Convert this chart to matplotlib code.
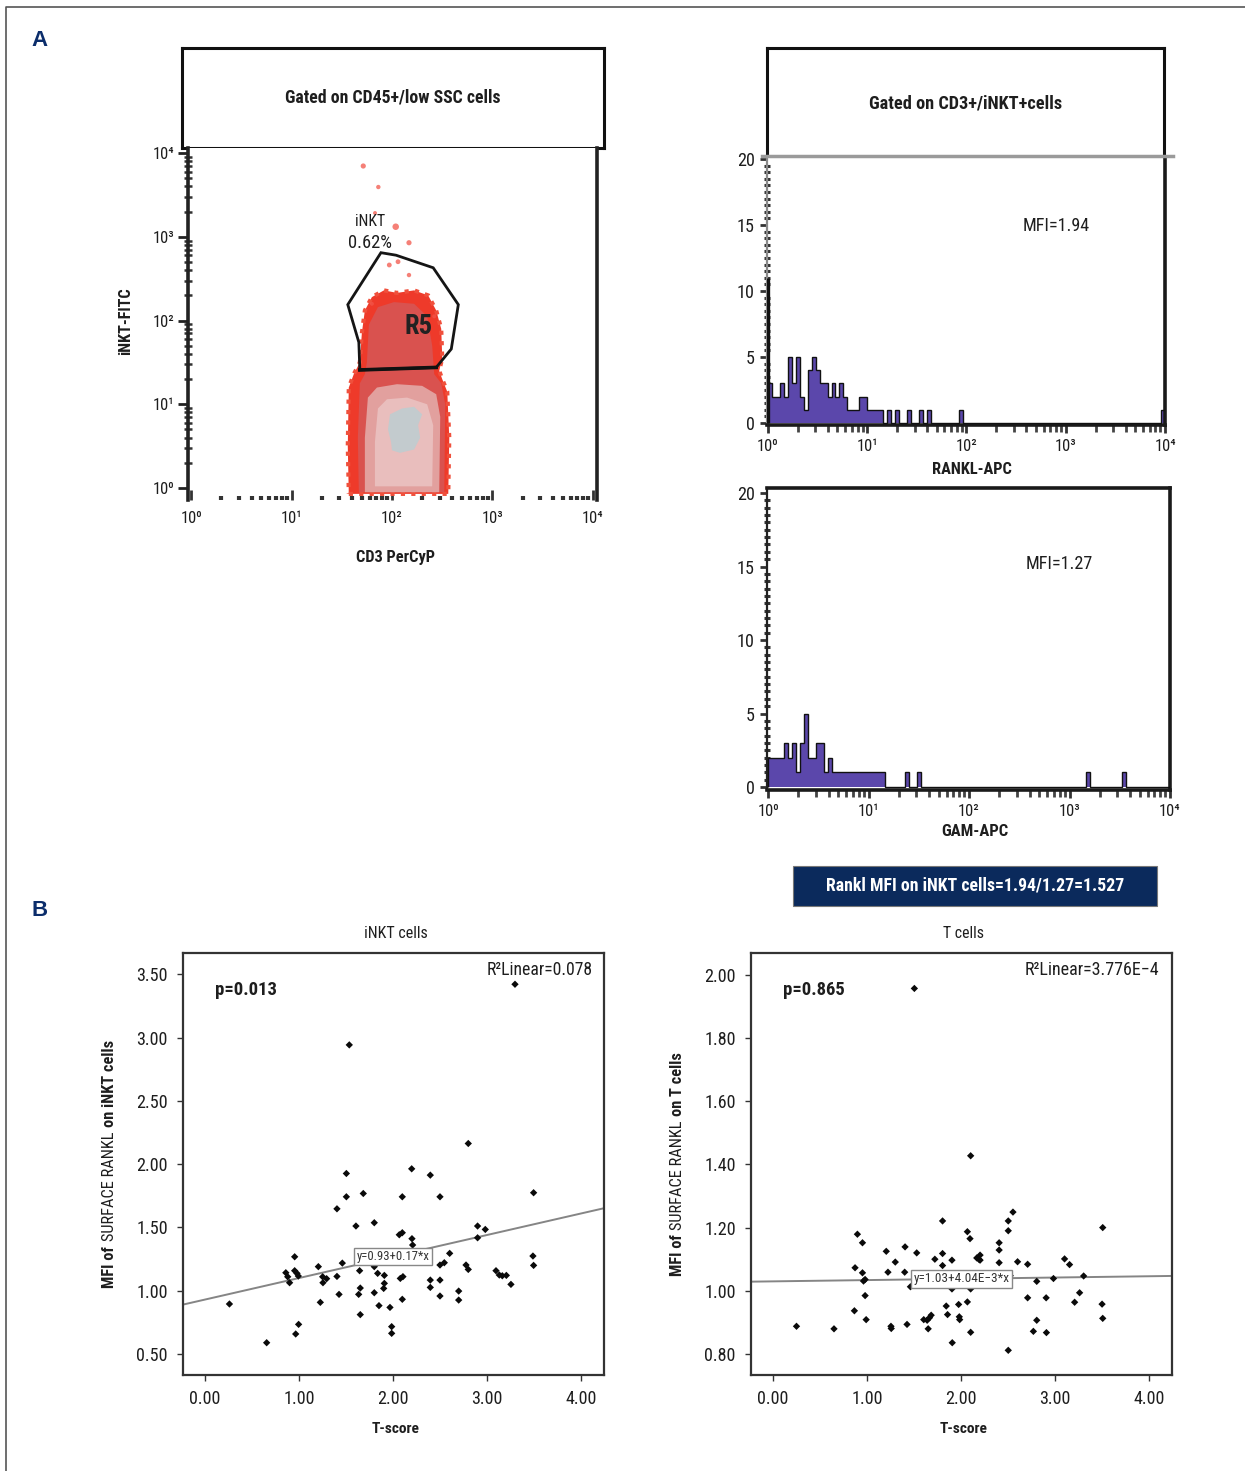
import numpy as np
import matplotlib
matplotlib.use('Agg')
import matplotlib.pyplot as plt
from matplotlib import font_manager as fm
from matplotlib.patches import Polygon, Rectangle
from matplotlib.lines import Line2D
from matplotlib.ticker import FixedLocator, FixedFormatter, NullFormatter, MultipleLocator

# ---------- pick a narrow font if one is installed ----------
_names = {e.name for e in fm.fontManager.ttflist}
FAM, STR = None, 'normal'
for p in ['Liberation Sans Narrow', 'Roboto Condensed', 'Open Sans Condensed', 'Noto Sans Condensed',
          'DejaVu Sans Condensed']:
    if p in _names:
        FAM = p
        break
if FAM is None:
    for fam in ['Noto Sans', 'Open Sans', 'Roboto', 'DejaVu Sans', 'Liberation Sans']:
        ents = [e for e in fm.fontManager.ttflist if e.name == fam and
                str(e.stretch) in ('condensed', 'semi-condensed', 'extra-condensed', 'ultra-condensed')]
        if ents:
            FAM, STR = fam, ents[0].stretch
            break
if FAM is None:
    FAM = 'Liberation Sans'
plt.rcParams['font.family'] = [FAM, 'DejaVu Sans']
plt.rcParams['font.stretch'] = STR
SCALE = 1.08  # the reference face is a little taller than ours at equal width

# ---------------- data ----------------
decades = [0, 1, 2, 3, 4]
decade_labels = ['10\u2070', '10\u00b9', '10\u00b2', '10\u00b3', '10\u2074']
# R5 gate (log10 CD3, log10 iNKT)
gate_cd3 = [1.89, 2.04, 2.41, 2.66, 2.59, 2.44, 1.68, 1.67, 1.56]
gate_inkt = [2.81, 2.78, 2.63, 2.19, 1.66, 1.44, 1.41, 1.74, 2.19]
gate_base_cd3 = [1.68, 2.44]
gate_base_inkt = [1.41, 1.44]
# density contour levels (log10 CD3, log10 iNKT)
lvl1_cd3 = [1.57, 2.56, 2.57, 2.55, 2.50, 2.47, 2.50, 2.49, 2.44, 2.36, 2.22, 2.05, 1.92, 1.80, 1.73, 1.70, 1.68, 1.62, 1.57, 1.56]
lvl1_inkt = [-0.07, -0.07, 0.60, 1.15, 1.30, 1.40, 1.55, 1.90, 2.12, 2.30, 2.36, 2.33, 2.36, 2.28, 2.12, 1.85, 1.50, 1.36, 1.20, 0.50]
lvl2_cd3 = [1.67, 2.52, 2.53, 2.49, 2.42, 2.40, 2.35, 2.22, 2.02, 1.86, 1.77, 1.75, 1.73, 1.68, 1.66]
lvl2_inkt = [-0.05, -0.05, 1.00, 1.25, 1.36, 1.70, 2.05, 2.20, 2.22, 2.16, 1.95, 1.50, 1.36, 1.25, 0.60]
lvl3_cd3 = [1.73, 2.47, 2.48, 2.44, 2.30, 2.05, 1.85, 1.76, 1.73]
lvl3_inkt = [-0.05, -0.05, 0.85, 1.12, 1.22, 1.24, 1.20, 1.08, 0.60]
lvl4_cd3 = [1.83, 2.40, 2.41, 2.35, 2.15, 1.95, 1.86, 1.83]
lvl4_inkt = [0.02, 0.02, 0.75, 1.00, 1.08, 1.06, 0.95, 0.55]
lvl5_cd3 = [2.00, 2.08, 2.22, 2.28, 2.26, 2.30, 2.22, 2.10, 1.98, 1.96, 1.99]
lvl5_inkt = [0.45, 0.42, 0.46, 0.60, 0.75, 0.88, 0.97, 0.95, 0.88, 0.70, 0.55]
# sparse events above the population
events_cd3 = [1.714, 1.864, 1.831, 2.037, 2.169, 1.973, 2.060, 2.169, 1.80, 2.42]
events_inkt = [3.845, 3.594, 3.284, 3.120, 2.929, 2.663, 2.702, 2.543, 2.20, 2.05]
events_size = [14, 10, 8, 22, 14, 12, 12, 10, 8, 8]

# histograms: counts in bins of 0.04 decade starting at 10^0
hist_bin_log = 0.04
hist_nbins = 100
rankl_counts = [3, 2, 2, 3, 2, 5, 3, 5, 2, 1, 4, 5, 4, 3, 3, 2, 3, 2, 3, 2, 1, 1, 1, 2, 2,
                1, 1, 1, 1, 0, 1, 0, 1, 0, 0, 1, 0, 0, 1, 0, 1, 0, 0, 0, 0, 0, 0, 0, 1]
rankl_far_bins = [99]
rankl_far_counts = [1]
rankl_first_channel = 11
gam_counts = [2, 2, 2, 2, 3, 2, 3, 1, 3, 5, 2, 2, 3, 3, 1, 2,
              1, 1, 1, 1, 1, 1, 1, 1, 1, 1, 1, 1, 1]
gam_far_bins = [34, 37, 79, 88]
gam_far_counts = [1, 1, 1, 1]
mfi_rankl = "MFI=1.94"
mfi_gam = "MFI=1.27"

# scatter B left: iNKT cells
inkt_t = [0.26, 0.656, 0.86, 0.88, 0.90, 0.954, 0.965, 0.954, 0.979, 0.993, 0.996, 1.206, 1.227,
          1.252, 1.255, 1.294, 1.404, 1.404, 1.426, 1.461, 1.504, 1.504, 1.535, 1.606, 1.645, 1.635,
          1.652, 1.652, 1.684, 1.801, 1.801, 1.801, 1.837, 1.851, 1.908, 1.908, 1.901, 1.968, 1.986,
          1.986, 2.067, 2.099, 2.099, 2.099, 2.078, 2.106, 2.199, 2.202, 2.209, 2.397, 2.397, 2.397,
          2.50, 2.50, 2.50, 2.50, 2.546, 2.603, 2.699, 2.699, 2.777, 2.801, 2.801, 2.90, 2.90, 2.982,
          3.096, 3.131, 3.163, 3.206, 3.255, 3.298, 3.496, 3.489, 3.496]
inkt_mfi = [0.895, 0.589, 1.142, 1.11, 1.063, 1.268, 0.658, 1.158, 1.137, 1.116, 0.734, 1.19, 0.908,
            1.11, 1.063, 1.095, 1.113, 1.647, 0.971, 1.218, 1.926, 1.742, 2.942, 1.511, 1.158, 0.971,
            1.021, 0.811, 1.768, 1.537, 0.984, 1.19, 1.137, 0.882, 1.121, 1.058, 1.018, 0.868, 0.716,
            0.663, 1.442, 1.458, 1.742, 0.932, 1.097, 1.111, 1.963, 1.411, 1.361, 1.913, 1.084, 1.026,
            1.742, 1.084, 0.958, 1.203, 1.221, 1.295, 0.997, 0.926, 1.203, 1.168, 2.163, 1.511, 1.418,
            1.484, 1.158, 1.124, 1.118, 1.121, 1.05, 3.421, 1.774, 1.274, 1.2]
inkt_fit = (0.93, 0.17)
inkt_eq = "y=0.93+0.17*x"
inkt_r2 = "R²Linear=0.078"
inkt_p = "p=0.013"

# scatter B right: T cells
tc_t = [0.25, 0.649, 0.866, 0.873, 0.898, 0.952, 0.952, 0.963, 0.980, 0.980, 0.991, 1.205, 1.223,
        1.255, 1.258, 1.301, 1.401, 1.405, 1.426, 1.462, 1.504, 1.529, 1.604, 1.640, 1.651, 1.665,
        1.683, 1.722, 1.804, 1.804, 1.804, 1.843, 1.857, 1.904, 1.904, 1.907, 1.975, 1.982, 1.986,
        2.068, 2.068, 2.096, 2.103, 2.103, 2.103, 2.168, 2.193, 2.203, 2.203, 2.406, 2.406, 2.406,
        2.503, 2.503, 2.503, 2.524, 2.553, 2.602, 2.709, 2.709, 2.770, 2.806, 2.806, 2.906, 2.909,
        2.984, 3.102, 3.155, 3.209, 3.262, 3.305, 3.501, 3.508, 3.508]
tc_mfi = [0.888, 0.880, 0.937, 1.073, 1.179, 1.152, 1.057, 1.031, 1.036, 0.985, 0.909, 1.125, 1.059,
          0.888, 0.881, 1.091, 1.059, 1.139, 0.894, 1.013, 1.956, 1.120, 0.909, 0.907, 0.880, 0.915,
          0.923, 1.100, 1.221, 1.118, 1.080, 0.952, 0.925, 1.097, 1.006, 0.836, 0.957, 0.918, 0.909,
          0.965, 1.187, 1.165, 1.427, 0.869, 1.006, 1.104, 1.099, 1.113, 1.097, 1.152, 1.129, 1.089,
          1.221, 1.190, 0.812, 1.048, 1.249, 1.092, 1.084, 0.978, 0.872, 1.030, 0.907, 0.978, 0.868,
          1.039, 1.101, 1.083, 0.964, 0.994, 1.047, 0.958, 1.200, 0.913]
tc_fit = (1.03, 4.04e-3)
tc_eq = "y=1.03+4.04E\u22123*x"
tc_r2 = "R²Linear=3.776E\u22124"
tc_p = "p=0.865"

x_ticks_b = [0, 1, 2, 3, 4]
inkt_yticks = [0.5, 1.0, 1.5, 2.0, 2.5, 3.0, 3.5]
tc_yticks = [0.8, 1.0, 1.2, 1.4, 1.6, 1.8, 2.0]
hist_yticks = [0, 5, 10, 15, 20]

# ---------------- figure ----------------
W, H = 1245, 1471
fig = plt.figure(figsize=(W / 100, H / 100), dpi=100)
R = fig.canvas.get_renderer()
TXT = '#1e1e1e'


def fit(t, target, scale=SCALE):
    """scale a text's font size so that its length matches the reference (px)"""
    bb = t.get_window_extent(R)
    length = bb.height if t.get_rotation() % 180 == 90 else bb.width
    t.set_fontsize(t.get_fontsize() * target * scale / length)
    return t


def size_for(s, target, weight='normal', base=12):
    t = fig.text(0, 0, s, fontsize=base, fontweight=weight)
    w = t.get_window_extent(R).width
    t.remove()
    return base * target * SCALE / w


TICK = size_for('3.50', 29)
TICKLOG = size_for('10\u00b2', 20)


def add_ax(l, t, r, b):
    return fig.add_axes([l / W, 1 - b / H, (r - l) / W, (b - t) / H])


def ftext(x, y, s, target=None, **kw):
    kw.setdefault('color', TXT)
    t = fig.text(x / W, 1 - y / H, s, **kw)
    if target:
        fit(t, target)
    return t


def fline(xs, ys, **kw):
    fig.add_artist(Line2D([x / W for x in xs], [1 - y / H for y in ys], transform=fig.transFigure, **kw))


# outer frame
fline([6, 6, 1245], [1471, 7, 7], color='#555555', lw=1.2)

ftext(40, 40, 'A', fontsize=16, fontweight='bold', color='#0b2d6b', ha='center', va='center',
      family=['Liberation Sans', 'DejaVu Sans'])
ftext(40, 911, 'B', fontsize=16, fontweight='bold', color='#0b2d6b', ha='center', va='center',
      family=['Liberation Sans', 'DejaVu Sans'])


def header_box(l, t, r, b, text, target):
    hx = add_ax(l, t, r, b)
    hx.set_xticks([])
    hx.set_yticks([])
    for sp in hx.spines.values():
        sp.set_linewidth(2.2)
        sp.set_color('#111111')
    tt = hx.text(0.5, 0.5, text, transform=hx.transAxes, ha='center', va='center',
                 fontsize=12, fontweight='bold', color=TXT)
    fit(tt, target)
    return hx


# ---------- flow dot plot ----------
header_box(182, 48, 604, 148, 'Gated on CD45+/low SSC cells', 199)
ax = add_ax(188, 148, 597, 500)
ax.set_xscale('log')
ax.set_yscale('log')
ax.set_xlim(10 ** -0.03, 10 ** 4.04)
ax.set_ylim(10 ** -0.143, 10 ** 4.06)

lv_colors = ['#ee3a2a', '#d9524f', '#e2a09e', '#e9bebd', '#c3cbce']
levels = [(lvl1_cd3, lvl1_inkt), (lvl2_cd3, lvl2_inkt), (lvl3_cd3, lvl3_inkt),
          (lvl4_cd3, lvl4_inkt), (lvl5_cd3, lvl5_inkt)]
for i, ((lx, ly), c) in enumerate(zip(levels, lv_colors)):
    pts = np.column_stack([10 ** np.array(lx), 10 ** np.array(ly)])
    if i == 0:
        ax.add_patch(Polygon(pts, closed=True, facecolor=c, edgecolor='#f0503c', lw=3,
                             linestyle=(0, (1, 1.5)), zorder=2))
    else:
        ax.add_patch(Polygon(pts, closed=True, facecolor=c, edgecolor='none', zorder=2 + i))
ax.scatter(10 ** np.array(events_cd3), 10 ** np.array(events_inkt), s=events_size,
           color='#f2554a', alpha=0.75, edgecolors='none', zorder=8)
gp = np.column_stack([10 ** np.array(gate_cd3), 10 ** np.array(gate_inkt)])
ax.add_patch(Polygon(gp, closed=True, fill=False, edgecolor='#151515', lw=2.0, zorder=9))
ax.plot(10 ** np.array(gate_base_cd3), 10 ** np.array(gate_base_inkt), color='#111111', lw=2.6, zorder=9)
fit(ax.text(10 ** 2.26, 10 ** 1.93, 'R5', fontsize=13, fontweight='bold', color='#222222',
            ha='center', va='center', zorder=10), 26)
fit(ax.text(10 ** 1.78, 10 ** 3.18, 'iNKT', fontsize=11, ha='center', va='center', color=TXT, zorder=10), 28)
fit(ax.text(10 ** 1.78, 10 ** 2.93, '0.62%', fontsize=11, ha='center', va='center', color=TXT, zorder=10), 41)

dec_vals = [10.0 ** d for d in decades]
ax.xaxis.set_major_locator(FixedLocator(dec_vals))
ax.xaxis.set_major_formatter(FixedFormatter(decade_labels))
ax.yaxis.set_major_locator(FixedLocator(dec_vals))
ax.yaxis.set_major_formatter(FixedFormatter(decade_labels))
minor = [k * 10.0 ** d for d in decades[:-1] for k in range(2, 10)]
ax.xaxis.set_minor_locator(FixedLocator(minor))
ax.yaxis.set_minor_locator(FixedLocator(minor))
ax.xaxis.set_minor_formatter(NullFormatter())
ax.yaxis.set_minor_formatter(NullFormatter())
ax.spines['top'].set_visible(False)
ax.spines['bottom'].set_visible(False)
for k in ['left', 'right']:
    ax.spines[k].set_linewidth(2.6)
    ax.spines[k].set_color('#222222')
ax.tick_params(axis='x', which='major', direction='in', length=7, width=2, pad=8, labelsize=TICKLOG,
               labelcolor=TXT, color='#333333')
ax.tick_params(axis='x', which='minor', direction='in', length=3, width=3, color='#333333')
ax.tick_params(axis='y', which='major', direction='out', length=7, width=2, pad=3, labelsize=TICKLOG,
               labelcolor=TXT, color='#222222')
ax.tick_params(axis='y', which='minor', direction='inout', length=6, width=1.8, color='#333333')
ftext(396, 557, 'CD3 PerCyP', 73, fontsize=12, fontweight='bold', ha='center', va='center')
ftext(126, 321, 'iNKT-FITC', 63, fontsize=12, fontweight='bold', ha='center', va='center', rotation=90)


# ---------- histograms ----------
def build_counts(head, far_bins, far_counts):
    c = np.zeros(hist_nbins)
    c[:len(head)] = head
    for b, v in zip(far_bins, far_counts):
        c[b] = v
    return c


hist_edges = 10 ** (np.arange(hist_nbins + 1) * hist_bin_log)


def histo(l, t, r, b, counts, ylo, yhi, xlabel, label_y, label_w, mfi, mfi_y, left_color):
    hx = add_ax(l, t, r, b)
    hx.set_xscale('log')
    hx.set_xlim(10 ** -0.01, 10 ** 4.0)
    hx.set_ylim(ylo, yhi)
    hx.stairs(counts, hist_edges, fill=True, color='#5b47ab', zorder=2)
    hx.stairs(counts, hist_edges, color='#111111', lw=1.0, zorder=3)
    hx.xaxis.set_major_locator(FixedLocator(dec_vals))
    hx.xaxis.set_major_formatter(FixedFormatter(decade_labels))
    hx.xaxis.set_minor_locator(FixedLocator(minor))
    hx.xaxis.set_minor_formatter(NullFormatter())
    hx.yaxis.set_major_locator(FixedLocator(hist_yticks))
    hx.yaxis.set_minor_locator(MultipleLocator(0.5))
    hx.tick_params(axis='x', which='major', direction='out', length=6, width=2, pad=4, labelsize=TICKLOG,
                   labelcolor=TXT, color='#333333')
    hx.tick_params(axis='x', which='minor', direction='out', length=5, width=2, color='#444444')
    hx.tick_params(axis='y', which='major', direction='out', length=5, width=2, pad=4, labelsize=TICK,
                   labelcolor=TXT, color='#333333')
    hx.tick_params(axis='y', which='minor', direction='inout', length=4, width=2.2, color='#333333')
    for k in ['top', 'bottom', 'right']:
        hx.spines[k].set_linewidth(2.6)
        hx.spines[k].set_color('#1a1a1a')
    hx.spines['left'].set_linewidth(1.6)
    hx.spines['left'].set_color(left_color)
    fit(hx.text(10 ** 2.9, mfi_y, mfi, fontsize=11.5, ha='center', va='center', color=TXT), 62)
    ftext((l + r) / 2 + 6, label_y, xlabel, label_w, fontsize=12, fontweight='bold', ha='center', va='center')
    return hx


header_box(767, 48, 1164, 158, 'Gated on CD3+/iNKT+cells', 179)
hx1 = histo(767, 158, 1165, 425, build_counts(rankl_counts, rankl_far_bins, rankl_far_counts),
            -0.15, 20.08, 'RANKL-APC', 469, 74, mfi_rankl, 14.9, '#8a8a8a')
hx1.spines['top'].set_visible(False)
hx1.vlines(10 ** 0.004, 0, rankl_first_channel, color='#111111', lw=2.4, zorder=4)
fline([762, 1173], [155.5, 155.5], color='#9a9a9a', lw=2.5)
hx2 = histo(767, 488, 1170, 790, build_counts(gam_counts, gam_far_bins, gam_far_counts),
            -0.2, 20.34, 'GAM-APC', 831, 62, mfi_gam, 15.2, '#222222')

# navy summary box
fig.add_artist(Rectangle((793 / W, 1 - 906 / H), (1157 - 793) / W, 40 / H, transform=fig.transFigure,
                         facecolor='#0b2a5c', edgecolor='#777777', lw=0.8))
ftext(975, 886, 'Rankl MFI on iNKT cells=1.94/1.27=1.527', 277, fontsize=11.5, fontweight='bold',
      color='white', ha='center', va='center')


# ---------- scatter plots ----------
def vlabel(xc, yc, parts, size, target):
    ts = [ftext(0, 0, s, rotation=90, fontsize=size, fontweight=w, ha='center', va='bottom') for s, w in parts]
    gapf = 0.27 * size * 100 / 72
    hs = [t.get_window_extent(R).height for t in ts]
    total = sum(hs) + gapf * (len(ts) - 1)
    k = target * SCALE / total
    for t in ts:
        t.set_fontsize(size * k)
    hs = [t.get_window_extent(R).height for t in ts]
    gap = gapf * k
    total = sum(hs) + gap * (len(ts) - 1)
    y0 = (H - yc) - total / 2
    for t, h in zip(ts, hs):
        t.set_position((xc / W, y0 / H))
        y0 += h + gap


def scatter_panel(l, r, xs, ys, fit_ab, eq, eq_xy, eq_w, r2, r2_xy, r2_w, p, p_xy, yticks, ylim,
                  title, title_w, ylab_parts, ylab_x, ylab_len):
    sx = add_ax(l, 953, r, 1375)
    sx.set_xlim(-0.234, 4.245)
    sx.set_ylim(*ylim)
    sx.scatter(xs, ys, marker='D', s=14, color='#0a0a0a', edgecolors='none', zorder=3)
    xl = np.array(sx.get_xlim())
    sx.plot(xl, fit_ab[0] + fit_ab[1] * xl, color='#858585', lw=1.4, zorder=2)
    fit(sx.text(eq_xy[0], eq_xy[1], eq, fontsize=8.5, ha='center', va='center', color='#333333', zorder=5,
                bbox=dict(boxstyle='square,pad=0.18', facecolor='white', edgecolor='#888888', lw=1.0)),
        eq_w, 1.0)
    fit(sx.text(r2_xy[0], r2_xy[1], r2, fontsize=11, ha='right', va='center', color=TXT), r2_w)
    fit(sx.text(p_xy[0], p_xy[1], p, fontsize=12, fontweight='bold', ha='left', va='center', color=TXT), 57)
    sx.set_xticks(x_ticks_b)
    sx.set_xticklabels(['%.2f' % v for v in x_ticks_b])
    sx.set_yticks(yticks)
    sx.set_yticklabels(['%.2f' % v for v in yticks])
    sx.tick_params(direction='out', length=4, width=1, pad=7, labelsize=TICK, labelcolor=TXT, color='#333333')
    for sp in sx.spines.values():
        sp.set_linewidth(1.6)
        sp.set_color('#333333')
    ftext((l + r) / 2 + 2, 933, title, title_w, fontsize=12, ha='center', va='center')
    ftext((l + r) / 2 + 2, 1429, 'T-score', 45, fontsize=12, fontweight='bold', ha='center', va='center')
    vlabel(ylab_x, 1164, ylab_parts, 11.5, ylab_len)
    return sx


scatter_panel(183, 604, inkt_t, inkt_mfi, inkt_fit, inkt_eq, (2.0, 1.271), 72, inkt_r2, (4.12, 3.53), 98,
              inkt_p, (0.106, 3.374), inkt_yticks, (0.334, 3.668), 'iNKT cells', 59,
              [('MFI of', 'bold'), ('SURFACE RANKL', 'normal'), ('on iNKT cells', 'bold')], 110, 230)
scatter_panel(751, 1172, tc_t, tc_mfi, tc_fit, tc_eq, (2.005, 1.038), 95, tc_r2, (4.11, 2.014), 125,
              tc_p, (0.107, 1.950), tc_yticks, (0.734, 2.068), 'T cells', 38,
              [('MFI of', 'bold'), ('SURFACE RANKL', 'normal'), ('on T cells', 'bold')], 678, 208)

fig.savefig('out.png', dpi=100)
